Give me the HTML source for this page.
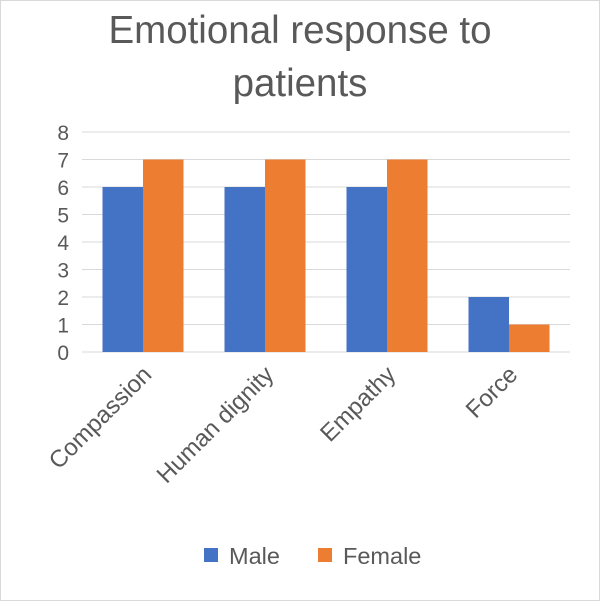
<!DOCTYPE html>
<html><head><meta charset="utf-8"><style>
html,body{margin:0;padding:0;background:#fff;}
svg{display:block;font-family:"Liberation Sans",sans-serif;}
</style></head><body>
<svg id="chart" width="600" height="601">
<rect x="0.5" y="0.5" width="599" height="600" fill="#fff" stroke="#d9d9d9"/>
<text x="300" y="43" text-anchor="middle" font-size="38.5" fill="#595959">Emotional response to</text>
<text x="300" y="96" text-anchor="middle" font-size="38.5" fill="#595959">patients</text>
<g id="grid"></g><g id="bars"></g><g id="labels"></g>
<g>
<rect x="204" y="548" width="14" height="14" fill="#4472c4"/>
<text x="229" y="564" font-size="23.5" fill="#595959">Male</text>
<rect x="318" y="548" width="14" height="14" fill="#ed7d31"/>
<text x="343" y="564" font-size="23.5" fill="#595959">Female</text>
</g>
</svg>
<script>
const categories=["Compassion","Human dignity","Empathy","Force"];
const male=[6,6,6,2];
const female=[7,7,7,1];
const ticks=[0,1,2,3,4,5,6,7,8];
const NS="http://www.w3.org/2000/svg";
const x0=82,x1=570,y0=352,y1=132,ymax=8;
const y=v=>y0-(y0-y1)*v/ymax;
const bw=(x1-x0)/categories.length;
function mk(t,a,p){const e=document.createElementNS(NS,t);for(const k in a)e.setAttribute(k,a[k]);p.appendChild(e);return e;}
const g=document.getElementById('grid'),b=document.getElementById('bars'),l=document.getElementById('labels');
ticks.forEach(t=>{
 const ln=mk('line',{x1:x0,x2:x1,y1:y(t),y2:y(t),stroke:'#d9d9d9','stroke-width':1},g);
 
 
 const tx=mk('text',{x:69,y:y(t)+8,'text-anchor':'end','font-size':21,fill:'#595959'},l);
 tx.textContent=t;
 
 
});
categories.forEach((c,i)=>{
 const cx=x0+bw*(i+0.5);
 const r1=mk('rect',{x:cx-40.5,y:y(male[i]),width:40.5,height:y0-y(male[i]),fill:'#4472c4'},b);
 
 
 const r2=mk('rect',{x:cx,y:y(female[i]),width:40.5,height:y0-y(female[i]),fill:'#ed7d31'},b);
 
 
 const ax=cx+10,ay=376;
 const tx=mk('text',{x:ax,y:ay,'text-anchor':'end','font-size':24,fill:'#595959',transform:`rotate(-45 ${ax} ${ay})`},l);
 tx.textContent=c;
 
 
});
</script>
</body></html>
